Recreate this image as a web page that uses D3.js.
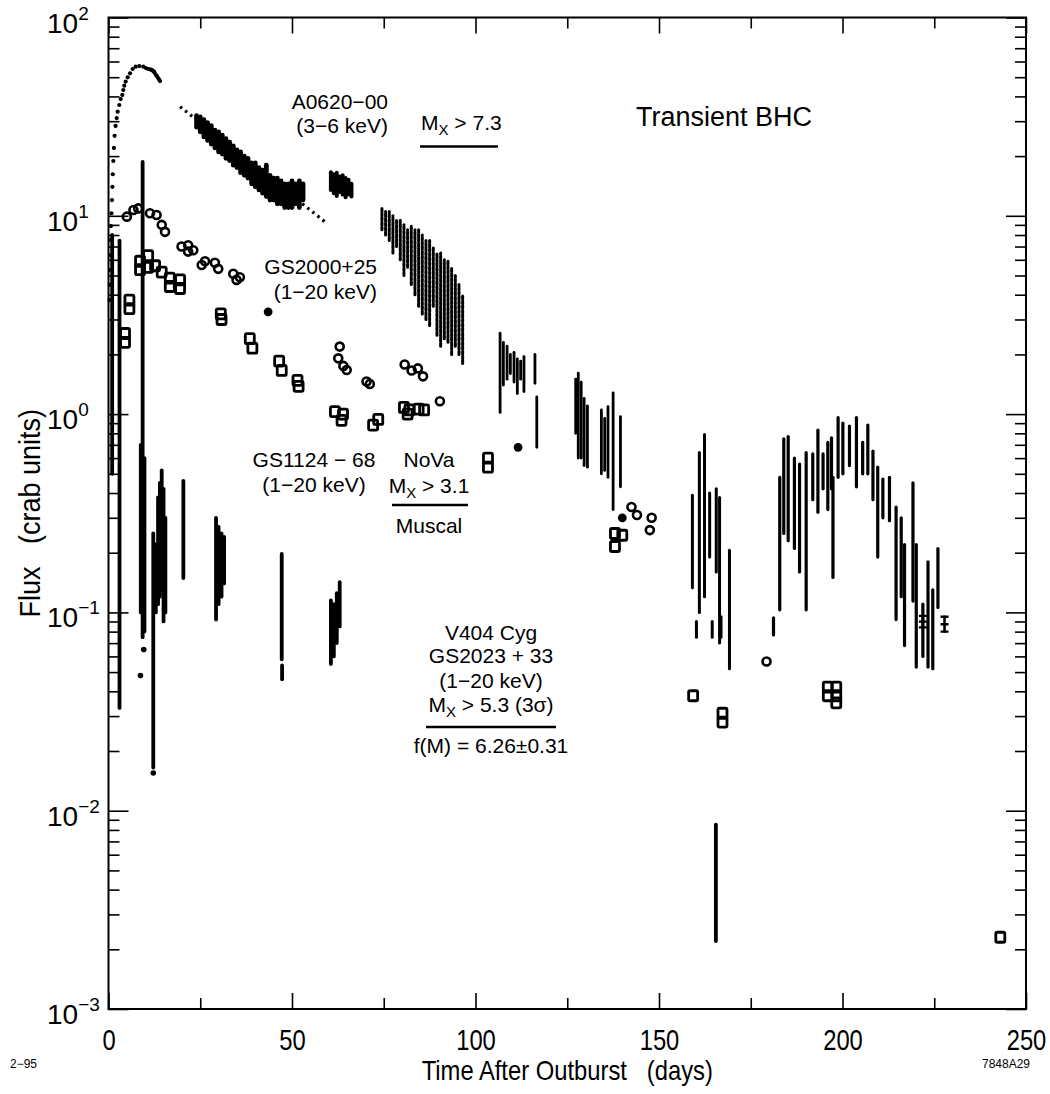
<!DOCTYPE html>
<html><head><meta charset="utf-8">
<script src="https://cdn.jsdelivr.net/npm/d3@7"></script>
<style>
body{margin:0;background:#fff}
svg text{font-family:"Liberation Sans",Arial,Helvetica,sans-serif;fill:#000}
</style></head><body>
<svg id="c" width="1050" height="1094"></svg>
<script>
// ---------- axis definitions ----------
const xMajorTicks=[0,50,100,150,200,250];
const xMinorTicks=[25,75,125,175,225];
const yDecades=[1e-3,1e-2,1e-1,1e0,1e1,1e2];
const yDecadeExp=["−3","−2","−1","0","1","2"];

// ---------- A0620-00 (3-6 keV) ----------
const a0620Rise=[[0.27,3.76],[0.33,4.48],[0.41,5.33],[0.49,6.34],[0.6,7.55],[0.68,8.88],[0.82,10.3],[0.95,12.0],[1.06,14.0],[1.17,16.2],[1.31,18.9],[1.47,22.0],[1.66,25.3],[1.93,28.4],[2.23,31.1],[2.5,33.5],[2.94,36.2],[3.32,38.8],[3.76,40.7],[4.03,43.1],[4.3,45.3],[4.68,47.5],[5.23,49.9],[5.86,52.3],[6.59,55.0],[7.41,56.5],[8.39,56.9],[9.48,56.5],[10.2,55.6],[10.84,55.0],[11.3,54.8],[11.76,54.4],[12.0,54.0],[12.39,53.3],[12.6,52.5],[12.94,51.3],[13.2,50.6],[13.56,49.4],[13.8,48.6],[14.03,47.8]];
const a0620Fit=[[19.5,35.5],[59.4,9.2]];
// [day, low, high]
const a0620Band=[[24,28,32],[25,26.5,31.5],[26,25,30.5],[27,24,29.5],[28,23,28.5],[29,22,27],[30,21,26.5],[31,20.5,25.5],[32,19.5,24.5],[33,19,23.5],[34,18,22.5],[35,17.5,21.5],[36,16.5,21],[37,16,20],[38,15.5,19.5],[39,14.5,18.5],[40,14,18.5],[41,13.5,17.5],[42,13,17],[43,12.5,18],[44,12,16],[45,12,15.5],[46,11.5,15.5],[47,11.5,15],[48,11,14.5],[49,11,14.5],[50,11,15],[51,11.5,14.5],[52,11,15],[53,12,14.5]];
const a0620Cluster=[[60.6,13.5,16.6],[61.4,13,16.2],[62.2,12.6,16.5],[63.0,13.2,15.8],[63.8,12.8,16],[64.6,12.4,15.5],[65.4,12.8,15.2],[66.2,12.5,14.5]];
const a0620Late=[[74.5,8.5,11],[75.5,8,10.5],[76.5,7.5,10.5],[77.5,6.5,10],[78.5,7,9.5],[79.5,6,9.5],[80.5,5,9],[81.5,5.5,8.5],[82.5,4.5,9],[83.5,4,8.5],[84.5,3.5,8.5],[85.5,3.2,8],[86.5,3,7.5],[87.5,2.8,7.5],[88.5,3.5,7],[89.5,2.5,6.5],[90.5,2.2,6.5],[91.5,2.4,6],[92.5,2.3,6],[93.5,2,5.5],[94.5,2.2,5],[95.5,2,4.5],[96.5,1.8,4]];

// ---------- open circles ----------
const circlePts=[[5.0,9.9],[6.8,10.7],[8.1,10.9],[11.3,10.3],[13.1,10.1],[14.5,9.0],[15.4,8.3],[19.9,7.0],[21.7,7.1],[23.1,6.7],[21.7,6.6],[25.4,5.65],[26.3,5.9],[29.0,5.8],[29.9,5.4],[34.0,5.1],[34.9,4.75],[35.8,4.9],[63.0,2.19],[62.6,1.91],[64.9,1.67],[64.0,1.75],[70.3,1.46],[71.2,1.42],[80.7,1.78],[82.6,1.66],[84.3,1.7],[85.7,1.55],[90.3,1.16],[142.5,0.34],[144.0,0.31],[148.0,0.30],[147.5,0.26],[179.3,0.0565]];
const filledPts=[[43.5,3.28],[111.6,0.68],[140.0,0.30]];

// ---------- open squares ----------
const squarePts=[[5.7,3.76],[5.7,3.4],[4.5,2.55],[4.5,2.3],[8.6,5.9],[8.6,5.35],[10.8,6.3],[10.8,5.5],[12.7,5.6],[14.5,5.2],[16.7,4.85],[16.7,4.4],[19.5,4.75],[19.5,4.3],[30.6,3.2],[30.8,3.0],[38.5,2.4],[39.2,2.15],[46.5,1.85],[47.2,1.66],[51.5,1.48],[51.8,1.38],[61.7,1.03],[63.9,1.0],[63.5,0.93],[72.1,0.88],[73.5,0.94],[80.5,1.08],[82,1.05],[84.5,1.06],[86,1.05],[81.5,1.0],[103.4,0.6],[103.4,0.54],[138,0.25],[138,0.215],[140,0.245],[159.3,0.038],[167.3,0.031],[167.3,0.028],[196,0.042],[198.3,0.042],[196,0.038],[198.3,0.038],[198.3,0.035],[243,0.0023]];

// ---------- V404 Cyg vertical streaks [day, low, high] ----------
const v404Streaks=[[1.0,0.5,8.0],[3.0,0.033,7.5],[8.8,0.1,0.7],[9.3,0.075,18.7],[9.8,0.08,0.6],[12.2,0.0165,0.25],[12.9,0.1,0.22],[13.5,0.11,0.38],[14.0,0.12,0.45],[14.5,0.13,0.52],[15.0,0.09,0.42],[15.5,0.1,0.3],[20.4,0.149,0.46],[29.3,0.092,0.3],[30.0,0.11,0.27],[30.8,0.12,0.25],[31.5,0.14,0.24],[47.2,0.058,0.197],[47.3,0.046,0.054],[60.6,0.055,0.115],[61.4,0.06,0.11],[62.2,0.07,0.125],[63.0,0.085,0.142]];
const v404Dots=[[8.7,0.048],[9.6,0.065],[12.2,0.0155]];

// ---------- later streaks [day, low, high] ----------
const midStreaks=[[106.7,1.02,2.56],[107.6,1.4,2.3],[108.6,1.5,2.2],[109.5,1.6,2.0],[110.5,1.45,2.05],[111.4,1.27,1.9],[112.3,1.5,1.85],[113.2,1.3,1.95],[116.2,1.43,2.0],[116.7,0.68,1.22],
 [127.3,0.8,1.5],[128.0,0.6,1.61],[128.8,0.6,1.45],[129.6,0.55,1.2],[130.5,0.54,1.1],[134.3,0.5,1.05],[135.2,0.52,0.95],[136.1,0.48,1.09],[137.5,0.33,1.28],[139.5,0.43,0.97]];
const dipStreaks=[[159.1,0.133,0.39],[160.2,0.075,0.09],[161.0,0.1,0.64],[162.4,0.12,0.79],[163.8,0.19,0.4],[164.5,0.075,0.09],[165.6,0.16,0.42],[166.5,0.07,0.38],[166.9,0.075,0.095],[169.2,0.052,0.206]];
const deepDip=[[165.5,0.0022,0.0085]];
const humpStreaks=[[181.2,0.077,0.094],[182.9,0.103,0.48],[184.0,0.25,0.75],[185.2,0.23,0.77],[186.9,0.21,0.6],[188.3,0.16,0.56],[190.1,0.103,0.64],[191.9,0.37,0.63],[193.3,0.32,0.83],[194.7,0.42,0.63],[196.0,0.33,0.72],[197.0,0.42,0.76],[197.4,0.15,0.48],[198.8,0.48,0.96],[200.1,0.5,0.9],[201.9,0.55,0.87],[203.8,0.43,0.96],[205.5,0.5,0.72],[206.9,0.5,0.88],[208.3,0.37,0.65],[209.6,0.19,0.54],[211.0,0.3,0.47],[212.8,0.29,0.48],[214.6,0.092,0.34],[216.0,0.12,0.3],[216.9,0.068,0.22],[219.2,0.114,0.45],[220.1,0.053,0.22],[221.9,0.06,0.11],[223.3,0.053,0.18],[224.6,0.052,0.13],[226.0,0.106,0.21]];
const cappedBars=[[221.9,0.084,0.096],[227.8,0.08,0.095]];

// ---------- scales ----------
const svg=d3.select('#c');
const x=d3.scaleLinear().domain([0,250]).range([108.5,1026]);
const y=d3.scaleLog().domain([1e-3,1e2]).range([1009,17.5]);

const FONT='"Liberation Sans",Arial,Helvetica,sans-serif';
function styleAxis(s){s.select('.domain').remove();s.selectAll('line').attr('stroke','#000').attr('stroke-width',1.6);}

// frame
svg.append('rect').attr('x',x(0)).attr('y',y(1e2)).attr('width',x(250)-x(0)).attr('height',y(1e-3)-y(1e2))
  .attr('fill','none').attr('stroke','#000').attr('stroke-width',2);

// x axes
svg.append('g').attr('transform',`translate(0,${y(1e-3)})`)
  .call(d3.axisBottom(x).tickValues(xMajorTicks).tickSize(-16).tickPadding(20).tickFormat(d=>String(d)))
  .call(styleAxis)
  .call(s=>s.selectAll('text').attr('font-size',29).attr('font-family',FONT).attr('fill','#000').attr('transform','scale(0.82,1)'));
svg.append('g').attr('transform',`translate(0,${y(1e-3)})`)
  .call(d3.axisBottom(x).tickValues(xMinorTicks).tickSize(-11).tickFormat('')).call(styleAxis);
svg.append('g').attr('transform',`translate(0,${y(1e2)})`)
  .call(d3.axisTop(x).tickValues(xMajorTicks).tickSize(-16).tickFormat('')).call(styleAxis);
svg.append('g').attr('transform',`translate(0,${y(1e2)})`)
  .call(d3.axisTop(x).tickValues(xMinorTicks).tickSize(-11).tickFormat('')).call(styleAxis);

// y axes
const yMinor=y.ticks().filter(v=>!yDecades.some(d=>Math.abs(d-v)/d<1e-6));
[[d3.axisLeft,x(0)],[d3.axisRight,x(250)]].forEach(([ax,px])=>{
  svg.append('g').attr('transform',`translate(${px},0)`)
    .call(ax(y).tickValues(yDecades).tickSize(-20).tickFormat('')).call(styleAxis);
  svg.append('g').attr('transform',`translate(${px},0)`)
    .call(ax(y).tickValues(yMinor).tickSize(-11).tickFormat('')).call(styleAxis);
});
// y tick labels 10^n
yDecades.forEach((v,i)=>{
  const t=svg.append('text').attr('x',47).attr('y',y(v)+15).attr('font-size',28);
  t.append('tspan').text('10');
  t.append('tspan').attr('font-size',19).attr('dy',-13).text(yDecadeExp[i]);
});

// axis titles
svg.append('text').attr('text-anchor','middle').attr('font-size',28)
  .attr('transform',`translate(${(x(0)+x(250))/2},1080) scale(0.85,1)`)
  .text('Time After Outburst\u00a0\u00a0\u00a0(days)');
svg.append('text').attr('text-anchor','middle').attr('font-size',30)
  .attr('transform',`translate(40,${(y(1e-3)+y(1e2))/2}) rotate(-90) scale(0.9,1)`)
  .text('Flux\u00a0\u00a0\u00a0(crab units)');
svg.append('text').attr('x',10).attr('y',1068).attr('font-size',12).text('2−95');
svg.append('text').attr('x',1030).attr('y',1068).attr('font-size',12).attr('text-anchor','end').text('7848A29');

// ---------- data marks ----------
const plot=svg.append('g');
function streaks(data,w,dash){
  plot.append('g').selectAll('line').data(data).join('line')
    .attr('x1',d=>x(d[0])).attr('x2',d=>x(d[0]))
    .attr('y1',d=>y(d[1])).attr('y2',d=>y(d[2]))
    .attr('stroke','#000').attr('stroke-width',w).attr('stroke-linecap','round')
    .attr('stroke-dasharray',dash||null);
}
// fit line
plot.append('path').datum(a0620Fit)
  .attr('d',d3.line().x(d=>x(d[0])).y(d=>y(d[1])))
  .attr('fill','none').attr('stroke','#000').attr('stroke-width',3.2).attr('stroke-dasharray','2.5 4');
// rise dots
plot.append('g').selectAll('circle').data(a0620Rise).join('circle')
  .attr('cx',d=>x(d[0])).attr('cy',d=>y(d[1])).attr('r',2.1).attr('fill','#000');
streaks(a0620Band,4.8);
streaks(a0620Cluster,4);
streaks(a0620Late,3,'3 1.6');
streaks(v404Streaks,3.8);
streaks(midStreaks,2.8);
streaks(dipStreaks,3);
streaks(deepDip,3.8);
streaks(humpStreaks,3.2);
streaks(cappedBars,2.6);
// caps
plot.append('g').selectAll('path').data(cappedBars).join('path')
  .attr('d',d=>`M${x(d[0])-4},${y(d[1])}h8M${x(d[0])-4},${y(d[2])}h8M${x(d[0])-4},${(y(d[1])+y(d[2]))/2}h8`)
  .attr('stroke','#000').attr('stroke-width',2.4).attr('fill','none');
plot.append('g').selectAll('circle').data(v404Dots).join('circle')
  .attr('cx',d=>x(d[0])).attr('cy',d=>y(d[1])).attr('r',2.8).attr('fill','#000');
// open circles
plot.append('g').selectAll('circle').data(circlePts).join('circle')
  .attr('cx',d=>x(d[0])).attr('cy',d=>y(d[1])).attr('r',4)
  .attr('fill','none').attr('stroke','#000').attr('stroke-width',2.6);
plot.append('g').selectAll('circle').data(filledPts).join('circle')
  .attr('cx',d=>x(d[0])).attr('cy',d=>y(d[1])).attr('r',4.4).attr('fill','#000');
// open squares
plot.append('g').selectAll('rect').data(squarePts).join('rect')
  .attr('x',d=>x(d[0])-4.5).attr('y',d=>y(d[1])-5).attr('width',9).attr('height',10).attr('rx',1.5)
  .attr('fill','none').attr('stroke','#000').attr('stroke-width',2.8);

// ---------- annotations ----------
function label(xp,yp,anchor,parts,size){
  const t=svg.append('text').attr('x',xp).attr('y',yp).attr('text-anchor',anchor).attr('font-size',size||21);
  parts.forEach(p=>{
    const s=t.append('tspan').text(p.t);
    if(p.sub){s.attr('font-size',15).attr('dy',5);}
    if(p.back){s.attr('dy',-5);}
  });
  return t;
}
function rule(x1,x2,yp){svg.append('line').attr('x1',x1).attr('x2',x2).attr('y1',yp).attr('y2',yp).attr('stroke','#000').attr('stroke-width',2.6);}

label(388,109,'end',[{t:'A0620−00'}]);
label(388,133,'end',[{t:'(3−6 keV)'}]);
label(421,130,'start',[{t:'M'},{t:'X',sub:1},{t:' > 7.3',back:1}]);
rule(420,498,146.5);
label(636,126,'start',[{t:'Transient BHC'}],27);

label(377,274,'end',[{t:'GS2000+25'}]);
label(377,299,'end',[{t:'(1−20 keV)'}]);

label(314,467,'middle',[{t:'GS1124 − 68'}]);
label(314,492,'middle',[{t:'(1−20 keV)'}]);

label(429,467,'middle',[{t:'NoVa'}]);
label(429,493,'middle',[{t:'M'},{t:'X',sub:1},{t:' > 3.1',back:1}]);
rule(392,468,505);
label(429,533,'middle',[{t:'Muscal'}]);

label(491,640,'middle',[{t:'V404 Cyg'}]);
label(491,663,'middle',[{t:'GS2023 + 33'}]);
label(491,688,'middle',[{t:'(1−20 keV)'}]);
label(491,712,'middle',[{t:'M'},{t:'X',sub:1},{t:' > 5.3 (3σ)',back:1}]);
rule(426,556,727);
label(491,753,'middle',[{t:'f(M) = 6.26±0.31'}]);
</script>
</body></html>
